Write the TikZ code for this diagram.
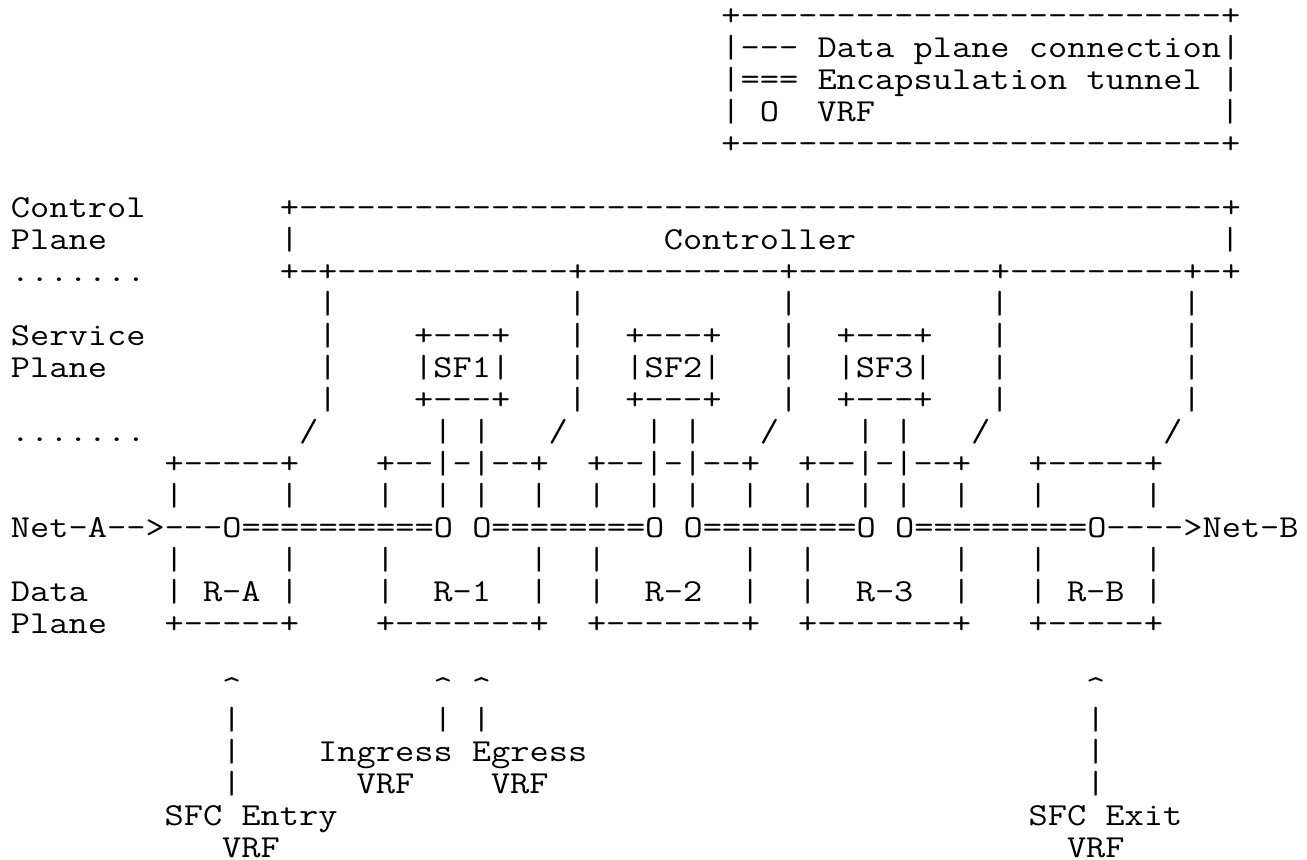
\documentclass[tikz,border=0pt]{standalone}
\usepackage{fontspec}
\setmonofont{Latin Modern Mono}[FakeStretch=1.1662]

\begin{document}
\begin{tikzpicture}[x=9.6pt, y=-16pt,
    font=\ttfamily\fontsize{16pt}{16pt}\selectfont,
    asc/.style={anchor=base west, inner sep=0pt, outer sep=0pt}]
    \useasboundingbox (-5.5pt,12.5pt) rectangle (648pt,-417pt);

    \node[asc] (legtop) at (37,0) {+-------------------------+};
    \node[asc] (legdata) at (37,1) {|--- Data plane connection|};
    \node[asc] (legtunnel) at (37,2) {|=== Encapsulation tunnel |};
    \node[asc] (legvrf) at (37,3) {| O};
    \node[asc] (legvrftxt) at (42,3) {VRF};
    \node[asc] (legvrfend) at (63,3) {|};
    \node[asc] (legbot) at (37,4) {+-------------------------+};

    \node[asc] (ctrlplane) at (0,6) {Control};
    \node[asc] (ctrlplane2) at (0,7) {Plane};
    \node[asc] (dots1) at (0,8) {.......};
    \node[asc] (ctrltop) at (14,6) {+------------------------------------------------+};
    \node[asc] (ctrlleft) at (14,7) {|};
    \node[asc] (ctrl) at (34,7) {Controller};
    \node[asc] (ctrlright) at (63,7) {|};
    \node[asc] (ctrlbot) at (14,8) {+-+------------+----------+----------+---------+-+};

    \node[asc] (svcplane) at (0,10) {Service};
    \node[asc] (svcplane2) at (0,11) {Plane};
    \node[asc] (dots2) at (0,13) {.......};
    \foreach \r in {9,...,12}
        \foreach \c in {16,29,40,51,61}
            \node[asc] (up-\r-\c) at (\c,\r) {|};
    \foreach \c in {15,28,39,50,60}
        \node[asc] (slash-\c) at (\c,13) {/};

    \foreach \c/\n in {21/1,32/2,43/3} {
        \node[asc] (sf\n-top) at (\c,10) {+---+};
        \node[asc] (sf\n) at (\c,11) {|SF\n|};
        \node[asc] (sf\n-bot) at (\c,12) {+---+};
        \node[asc] (sf\n-legs) at ({\c+1},13) {| |};
    }

    \node[asc] (ra-top) at (8,14) {+-----+};
    \node[asc] (rb-top) at (53,14) {+-----+};
    \foreach \c/\n in {19/1,30/2,41/3} {
        \node[asc] (r\n-top) at (\c,14) {+--|-|--+};
        \node[asc] (r\n) at ({\c+3},18) {R-\n};
        \node[asc] (r\n-bot) at (\c,19) {+-------+};
    }
    \foreach \r in {15,17,18}
        \foreach \c in {8,14,19,27,30,38,41,49,53,59}
            \node[asc] (side-\r-\c) at (\c,\r) {|};
    \foreach \c in {22,24,33,35,44,46}
        \node[asc] (leg-\c) at (\c,15) {|};

    \node[asc] (path) at (0,16) {Net-A-->---O==========O O========O O========O O=========O---->Net-B};

    \node[asc] (dataplane) at (0,18) {Data};
    \node[asc] (dataplane2) at (0,19) {Plane};
    \node[asc] (ra) at (10,18) {R-A};
    \node[asc] (rb) at (55,18) {R-B};
    \node[asc] (ra-bot) at (8,19) {+-----+};
    \node[asc] (rb-bot) at (53,19) {+-----+};

    \foreach \c in {11,22,24,56} {
        \node[asc] (tip-\c) at (\c,21) {\textasciicircum};
        \node[asc] (stem-\c) at (\c,22) {|};
    }
    \foreach \r in {23,24}
        \foreach \c in {11,56}
            \node[asc] (stem-\r-\c) at (\c,\r) {|};

    \node[asc] (inout) at (16,23) {Ingress Egress};
    \node[asc] (invrf) at (18,24) {VRF};
    \node[asc] (outvrf) at (25,24) {VRF};
    \node[asc] (entry) at (8,25) {SFC Entry};
    \node[asc] (entryvrf) at (11,26) {VRF};
    \node[asc] (exit) at (53,25) {SFC Exit};
    \node[asc] (exitvrf) at (55,26) {VRF};
\end{tikzpicture}
\end{document}
